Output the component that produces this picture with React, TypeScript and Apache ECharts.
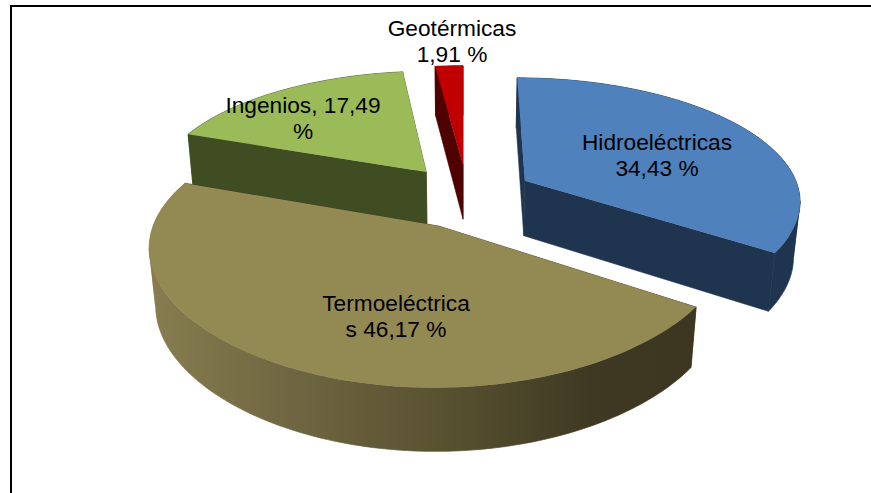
import React, { useEffect, useRef } from "react";
import * as echarts from "echarts";

const categories = ["Hidroeléctricas", "Termoeléctrica", "Ingenios", "Geotérmicas"];
const seriesValues = [34.43, 46.17, 17.49, 1.91];
const labelTexts = ["Hidroeléctricas\n34,43 %", "Termoeléctrica\ns 46,17 %", "Ingenios, 17,49\n%", "Geotérmicas\n1,91 %"];

// Perspective model of the pie's plane
const VP_X = 463;
const HORIZON_Y = -639;
const X_SCALE = 0.3305;
const Q_PER_V = 1.75e-4;
const NEAR_STRETCH = 0.04;
const BOTTOM_SLOPE = 0.919;
const BOTTOM_SHIFT = 0.000022;

// Exploded apex of each slice: plane x, and inverse perspective depth
const APEX_U = [0.2285, -0.084, -0.137, 0];
const APEX_Q = [0.00122, 0.001156, 0.001233, 0.001244];
const TOP_COLORS = ["#4f81bd", "#938953", "#9bbb59", "#c00000"];
const SIDE_COLORS = ["#1f344f", "#3c3620", "#404d23", "#4f0000"];
const LABEL_POS = [[657, 155], [396, 316], [303, 118], [452, 41]];
const DRAW_ORDER = [3, 2, 0, 1];

type Pt = [number, number];

function topPoint(u: number, q: number): Pt {
  const s = 1 / q;
  return [VP_X + X_SCALE * u * s, HORIZON_Y + s];
}
function bottomPoint(u: number, q: number): Pt {
  const s = 1 / (BOTTOM_SLOPE * q + BOTTOM_SHIFT);
  return [VP_X + X_SCALE * u * s * BOTTOM_SLOPE, HORIZON_Y + s];
}

function sliceGeometry(idx: number) {
  const total = seriesValues.reduce((a, b) => a + b, 0);
  const before = seriesValues.slice(0, idx).reduce((a, b) => a + b, 0);
  const a0 = (before / total) * Math.PI * 2;
  const a1 = ((before + seriesValues[idx]) / total) * Math.PI * 2;
  const steps = Math.max(4, Math.ceil((a1 - a0) * 40));
  const u0 = APEX_U[idx];
  const q0 = APEX_Q[idx];
  const arc: [number, number][] = [];
  for (let i = 0; i <= steps; i++) {
    const a = a0 + ((a1 - a0) * i) / steps;
    const c = Math.cos(a);
    const depth = c < 0 ? c * (1 + NEAR_STRETCH * c * c) : c;
    arc.push([u0 + Math.sin(a), q0 + Q_PER_V * depth]);
  }
  return { arc, apex: [u0, q0] as [number, number] };
}

// Cut the rim where it turns back in x, so front and back parts do not cancel out.
function rimBreaks(top: Pt[]): number[] {
  const breaks = [0];
  for (let i = 1; i < top.length - 1; i++) {
    if ((top[i][0] - top[i - 1][0]) * (top[i + 1][0] - top[i][0]) < 0) breaks.push(i);
  }
  breaks.push(top.length - 1);
  return breaks;
}

function renderSlice(params: any, api: any) {
  const idx = DRAW_ORDER[params.dataIndex];
  const { arc, apex } = sliceGeometry(idx);
  const top = arc.map(([u, q]) => topPoint(u, q));
  const bottom = arc.map(([u, q]) => bottomPoint(u, q));
  const apexT = topPoint(apex[0], apex[1]);
  const apexB = bottomPoint(apex[0], apex[1]);
  const side = SIDE_COLORS[idx];
  const rimFill: any =
    idx === 1
      ? new echarts.graphic.LinearGradient(
          150,
          0,
          700,
          0,
          [
            { offset: 0, color: "#877d4f" },
            { offset: 0.28, color: "#6d6440" },
            { offset: 0.55, color: "#57502f" },
            { offset: 0.8, color: "#3f3923" },
            { offset: 1, color: "#3c3620" },
          ],
          true
        )
      : side;
  const wall = (a: Pt, b: Pt, c: Pt, d: Pt) => ({
    type: "polygon",
    shape: { points: [a, b, c, d] },
    style: { fill: side, stroke: side, lineWidth: 0.5 },
  });
  const n = top.length - 1;
  const breaks = rimBreaks(top);
  const rims = breaks.slice(0, -1).map((from, i) => {
    const to = breaks[i + 1];
    return {
      type: "polygon",
      shape: { points: [...top.slice(from, to + 1), ...bottom.slice(from, to + 1).reverse()] },
      style: { fill: rimFill, stroke: rimFill, lineWidth: 0.7 },
    };
  });
  return {
    type: "group",
    children: [
      wall(apexT, top[0], bottom[0], apexB),
      wall(apexT, top[n], bottom[n], apexB),
      ...rims,
      {
        type: "polygon",
        shape: { points: [apexT, ...top] },
        style: { fill: TOP_COLORS[idx] },
      },
    ],
  };
}

export default function App() {
  const ref = useRef<HTMLDivElement>(null);
  useEffect(() => {
    const chart = echarts.init(ref.current!, undefined, { renderer: "svg" });
    chart.setOption({
      animation: false,
      backgroundColor: "#ffffff",
      graphic: [
        {
          type: "polyline",
          z: 0,
          shape: { points: [[11, 493], [11, 6], [871, 6]] },
          style: { fill: "none", stroke: "#000000", lineWidth: 2 },
        },
        ...labelTexts.map((t, i) => ({
          type: "text",
          z: 100,
          x: LABEL_POS[i][0],
          y: LABEL_POS[i][1],
          style: {
            text: t,
            fill: "#000000",
            font: '22.7px "Liberation Sans", Arial, sans-serif',
            lineHeight: 26.5,
            align: "center",
            verticalAlign: "middle",
          },
        })),
      ],
      series: [
        {
          type: "custom",
          coordinateSystem: "none",
          z: 5,
          renderItem: renderSlice,
          data: DRAW_ORDER.map((i) => ({ name: categories[i], value: seriesValues[i] })),
        },
      ],
    });
    return () => chart.dispose();
  }, []);
  return <div ref={ref} style={{ position: "fixed", left: 0, top: 0, width: 871, height: 493 }} />;
}
